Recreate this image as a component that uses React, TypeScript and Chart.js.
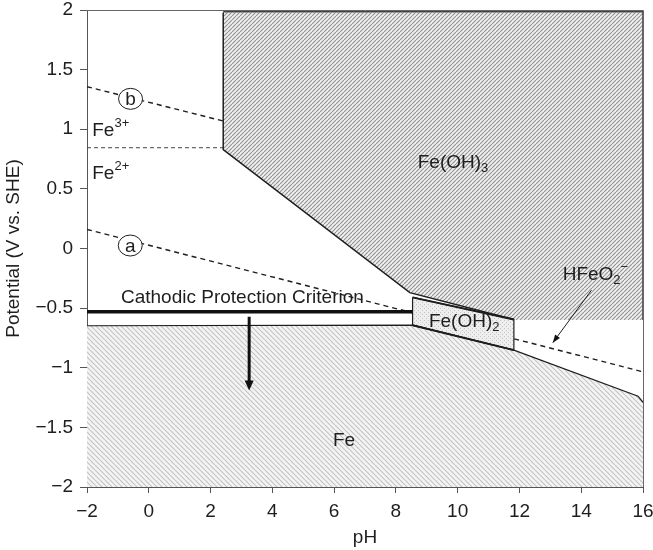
import React, { useEffect, useRef } from 'react';
import { Chart, registerables } from 'chart.js';

Chart.register(...registerables);

const FONT = '"Liberation Sans", Arial, Helvetica, sans-serif';
const INK = '#1e1e1e';
const FS = 19;

// Axis ranges / ticks
const xRange = [-2, 16];
const yRange = [-2, 2];
const xStep = 2;
const yStep = 0.5;

// Region boundaries (pH, V vs SHE)
const feOH3Region = [
  { x: 2.41, y: 1.98 }, { x: 16, y: 1.98 }, { x: 16, y: -0.6 }, { x: 11.82, y: -0.6 },
  { x: 11.82, y: -0.595 }, { x: 8.45, y: -0.37 }, { x: 2.41, y: 0.83 }, { x: 2.41, y: 1.98 },
];
const feRegion = [
  { x: -2, y: -0.648 }, { x: 8.54, y: -0.643 }, { x: 11.82, y: -0.852 }, { x: 15.84, y: -1.238 },
  { x: 16, y: -1.29 }, { x: 16, y: -2 }, { x: -2, y: -2 }, { x: -2, y: -0.648 },
];
const feOH2Region = [
  { x: 8.54, y: -0.41 }, { x: 11.82, y: -0.595 }, { x: 11.82, y: -0.852 }, { x: 8.54, y: -0.643 }, { x: 8.54, y: -0.41 },
];
const feOH3Boundary = [{ x: 2.41, y: 1.98 }, { x: 2.41, y: 0.83 }, { x: 8.45, y: -0.37 }, { x: 11.82, y: -0.595 }];
const feOH3Outer = [{ x: 2.41, y: 1.985 }, { x: 16, y: 1.985 }, { x: 16, y: -0.6 }];
const feTopBoundary = [
  { x: -2, y: -0.648 }, { x: 8.54, y: -0.643 }, { x: 11.82, y: -0.852 }, { x: 15.84, y: -1.238 }, { x: 16, y: -1.29 },
];
const feOH2Top = [{ x: 8.54, y: -0.41 }, { x: 11.82, y: -0.595 }];
const feOH2Bottom = [{ x: 8.54, y: -0.643 }, { x: 11.82, y: -0.852 }];
const fe32Line = [{ x: -2, y: 0.845 }, { x: 2.41, y: 0.845 }];
const waterA = [{ x: -2, y: 0.16 }, { x: 16, y: -1.034 }];
const waterB = [{ x: -2, y: 1.357 }, { x: 2.41, y: 1.069 }];
const cathodicLine = [{ x: -2, y: -0.53 }, { x: 8.54, y: -0.53 }];
const cathodicArrow = [{ x: 3.25, y: -0.573 }, { x: 3.25, y: -1.13 }];
const hfeo2Arrow = [{ x: 14.33, y: -0.35 }, { x: 13.08, y: -0.79 }];

// Arrow heads: tip and direction reference point
const arrowHeads = [
  { from: { x: 3.25, y: -1.1 }, tip: { x: 3.25, y: -1.19 }, len: 10, w: 9 },
  { from: { x: 14.33, y: -0.35 }, tip: { x: 13.08, y: -0.79 }, len: 8, w: 6 },
];

// Text labels
type Part = { t: string; s: number };
const labels: { parts: Part[]; x: number; y: number; align: 'left' | 'center' }[] = [
  { parts: [{ t: 'Fe', s: 0 }, { t: '3+', s: 1 }], x: -1.83, y: 0.99, align: 'left' },
  { parts: [{ t: 'Fe', s: 0 }, { t: '2+', s: 1 }], x: -1.83, y: 0.63, align: 'left' },
  { parts: [{ t: 'Fe(OH)', s: 0 }, { t: '3', s: -1 }], x: 9.85, y: 0.72, align: 'center' },
  { parts: [{ t: 'HFeO', s: 0 }, { t: '2', s: -1 }, { t: '\u2212', s: 1 }], x: 13.4, y: -0.22, align: 'left' },
  { parts: [{ t: 'Fe(OH)', s: 0 }, { t: '2', s: -1 }], x: 9.07, y: -0.615, align: 'left' },
  { parts: [{ t: 'Fe', s: 0 }], x: 5.96, y: -1.615, align: 'left' },
  { parts: [{ t: 'Cathodic Protection Criterion', s: 0 }], x: -0.9, y: -0.41, align: 'left' },
];
const circleLabels = [
  { t: 'b', x: -0.59, y: 1.255 },
  { t: 'a', x: -0.6, y: 0.025 },
];

function makePattern(kind: string): CanvasPattern | string {
  const c = document.createElement('canvas');
  const g = c.getContext('2d');
  if (!g) return '#ccc';
  if (kind === 'feoh3') {
    const s = 4;
    c.width = s; c.height = s;
    g.fillStyle = '#f2f2f2';
    g.fillRect(0, 0, s, s);
    g.strokeStyle = '#959595';
    g.lineWidth = 1.2;
    for (let k = -1; k <= 1; k++) {
      g.beginPath();
      g.moveTo(k * s, s);
      g.lineTo(k * s + s, 0);
      g.stroke();
    }
  } else if (kind === 'fe') {
    const s = 5;
    c.width = s; c.height = s;
    g.fillStyle = '#f4f4f4';
    g.fillRect(0, 0, s, s);
    g.strokeStyle = '#c2c2c2';
    g.lineWidth = 1.1;
    for (let k = -1; k <= 1; k++) {
      g.beginPath();
      g.moveTo(k * s, 0);
      g.lineTo(k * s + s, s);
      g.stroke();
    }
  } else {
    const s = 4;
    c.width = s; c.height = s;
    g.fillStyle = '#eeeeee';
    g.fillRect(0, 0, s, s);
    g.fillStyle = '#c4c4c4';
    g.fillRect(0, 0, 1, 1);
    g.fillRect(2, 2, 1, 1);
  }
  const p = g.createPattern(c, 'repeat');
  return p || '#ccc';
}

function drawRich(ctx: CanvasRenderingContext2D, parts: Part[], x: number, y: number, align: string, size: number) {
  const big = `${size}px ${FONT}`;
  const small = `${Math.round(size * 0.68)}px ${FONT}`;
  let total = 0;
  const widths = parts.map((p) => {
    ctx.font = p.s === 0 ? big : small;
    const w = ctx.measureText(p.t).width;
    total += w;
    return w;
  });
  let cx = align === 'center' ? x - total / 2 : x;
  ctx.textBaseline = 'middle';
  ctx.textAlign = 'left';
  ctx.fillStyle = INK;
  parts.forEach((p, i) => {
    ctx.font = p.s === 0 ? big : small;
    const dy = p.s === 1 ? -size * 0.36 : p.s === -1 ? size * 0.3 : 0;
    ctx.fillText(p.t, cx, y + dy);
    cx += widths[i];
  });
}

const annotationPlugin = {
  id: 'annotations',
  afterDatasetsDraw(chart: any) {
    const { ctx, chartArea, scales } = chart;
    const xs = scales.x;
    const ys = scales.y;
    ctx.save();
    // frame top and right
    ctx.strokeStyle = '#666';
    ctx.lineWidth = 1;
    ctx.beginPath();
    ctx.moveTo(chartArea.left, chartArea.top + 0.5);
    ctx.lineTo(chartArea.right + 0.5, chartArea.top + 0.5);
    ctx.lineTo(chartArea.right + 0.5, chartArea.bottom);
    ctx.stroke();

    // arrow heads
    ctx.fillStyle = '#111';
    arrowHeads.forEach((a) => {
      const x1 = xs.getPixelForValue(a.from.x), y1 = ys.getPixelForValue(a.from.y);
      const x2 = xs.getPixelForValue(a.tip.x), y2 = ys.getPixelForValue(a.tip.y);
      const ang = Math.atan2(y2 - y1, x2 - x1);
      const bx = x2 - a.len * Math.cos(ang), by = y2 - a.len * Math.sin(ang);
      const px = -Math.sin(ang) * a.w / 2, py = Math.cos(ang) * a.w / 2;
      ctx.beginPath();
      ctx.moveTo(x2, y2);
      ctx.lineTo(bx + px, by + py);
      ctx.lineTo(bx - px, by - py);
      ctx.closePath();
      ctx.fill();
    });

    // circled labels
    circleLabels.forEach((c) => {
      const cx = xs.getPixelForValue(c.x), cy = ys.getPixelForValue(c.y);
      ctx.beginPath();
      ctx.ellipse(cx, cy, 12, 10.5, 0, 0, Math.PI * 2);
      ctx.fillStyle = '#fff';
      ctx.fill();
      ctx.strokeStyle = INK;
      ctx.lineWidth = 1;
      ctx.stroke();
      ctx.fillStyle = INK;
      ctx.font = `${FS}px ${FONT}`;
      ctx.textAlign = 'center';
      ctx.textBaseline = 'middle';
      ctx.fillText(c.t, cx, cy + 1);
    });

    labels.forEach((l) => {
      drawRich(ctx, l.parts, xs.getPixelForValue(l.x), ys.getPixelForValue(l.y), l.align, FS);
    });
    ctx.restore();
  },
};

function lineDs(data: any[], color: string, width: number, order: number, dash: number[] = []) {
  return {
    data,
    showLine: true,
    fill: false,
    borderColor: color,
    backgroundColor: color,
    borderWidth: width,
    borderDash: dash,
    pointRadius: 0,
    pointHoverRadius: 0,
    tension: 0,
    order,
  };
}

function fillDs(data: any[], bg: any, order: number, border = 'rgba(0,0,0,0)', bw = 0) {
  return {
    data,
    showLine: true,
    fill: 'shape',
    backgroundColor: bg,
    borderColor: border,
    borderWidth: bw,
    pointRadius: 0,
    pointHoverRadius: 0,
    tension: 0,
    order,
  };
}

const fmt = (v: any) => {
  const n = Math.round(Number(v) * 10) / 10;
  return n < 0 ? '\u2212' + String(Math.abs(n)) : String(n);
};
const zeroPad = (s: any) => {
  s.paddingLeft = 0;
  s.paddingRight = 0;
  s.paddingTop = 0;
  s.paddingBottom = 0;
};

export default function App() {
  const ref = useRef<HTMLCanvasElement>(null);
  useEffect(() => {
    document.body.style.margin = '0';
    if (!ref.current) return;
    const chart = new Chart(ref.current, {
      type: 'scatter',
      data: {
        datasets: [
          fillDs(feRegion, makePattern('fe'), 20),
          fillDs(feOH3Region, makePattern('feoh3'), 20),
          lineDs(fe32Line, '#444', 1, 18, [4, 3]),
          lineDs(waterA, INK, 1.4, 18, [5, 4]),
          lineDs(waterB, INK, 1.4, 18, [5, 4]),
          fillDs(feOH2Region, makePattern('feoh2'), 16, INK, 1.2),
          lineDs(feOH2Top, INK, 2, 15),
          lineDs(feOH2Bottom, INK, 2, 15),
          lineDs(feOH3Boundary, INK, 1.5, 15),
          lineDs(feOH3Outer, '#444', 1.5, 15),
          lineDs(feTopBoundary, INK, 1.2, 15),
          lineDs(cathodicLine, '#111', 3.5, 12),
          lineDs(cathodicArrow, '#111', 3, 12),
          lineDs(hfeo2Arrow, INK, 1, 12),
        ] as any,
      },
      options: {
        responsive: false,
        animation: false,
        events: [],
        layout: { padding: { top: 10, right: 10, left: 0, bottom: 0 } },
        plugins: { legend: { display: false }, tooltip: { enabled: false } },
        scales: {
          x: {
            type: 'linear',
            min: xRange[0],
            max: xRange[1],
            afterFit: (s: any) => { s.height = 63; zeroPad(s); },
            grid: { drawOnChartArea: false, tickLength: 6, color: '#555' },
            border: { color: '#555', width: 1 },
            ticks: { stepSize: xStep, padding: 7, color: INK, font: { family: FONT, size: FS }, callback: fmt },
            title: { display: true, text: 'pH', color: INK, font: { family: FONT, size: FS }, padding: { top: 2, bottom: 1 } },
          },
          y: {
            type: 'linear',
            min: yRange[0],
            max: yRange[1],
            afterFit: (s: any) => { s.width = 87; zeroPad(s); },
            grid: { drawOnChartArea: false, tickLength: 7, color: '#555' },
            border: { color: '#555', width: 1 },
            ticks: { stepSize: yStep, padding: 7, color: INK, font: { family: FONT, size: FS }, callback: fmt },
            title: { display: true, text: 'Potential (V vs. SHE)', color: INK, font: { family: FONT, size: FS }, padding: { top: 2, bottom: 2 } },
          },
        },
      } as any,
      plugins: [annotationPlugin],
    });
    return () => chart.destroy();
  }, []);
  return (
    <div style={{ width: 653, height: 550 }}>
      <canvas ref={ref} width={653} height={550} style={{ display: 'block' }} />
    </div>
  );
}
